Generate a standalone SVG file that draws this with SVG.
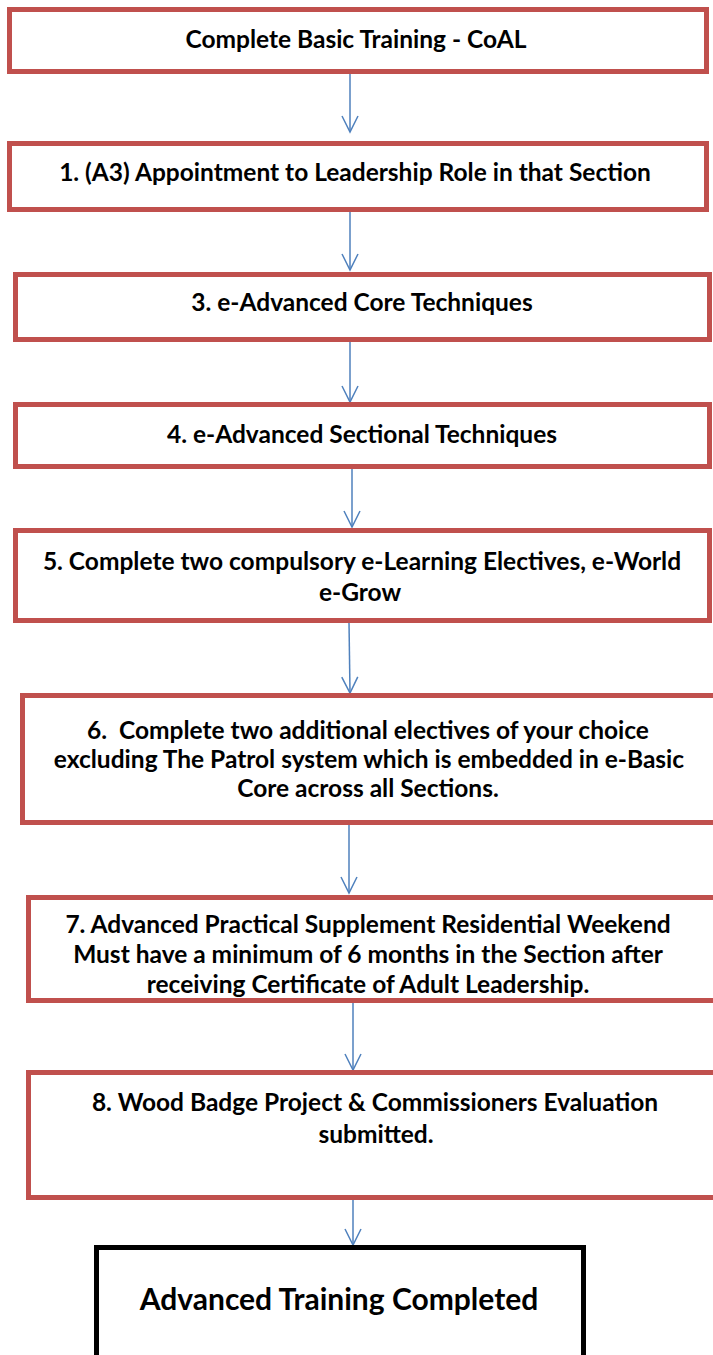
<svg xmlns="http://www.w3.org/2000/svg" width="713" height="1355" viewBox="0 0 713 1355">
<defs>
<style>
.box{fill:#fff;stroke:#C0504D;stroke-width:5}
.end{fill:#fff;stroke:#000;stroke-width:5}
.t{font-family:Lato,"Liberation Sans",sans-serif;font-weight:bold;font-size:24.5px;fill:#000;text-anchor:middle;white-space:pre}
.big{font-size:30px}
.c{fill:none;stroke:#4F81BD;stroke-width:1.5}
</style>
<marker id="ah" viewBox="0 0 20 20" refX="18" refY="10" markerWidth="20" markerHeight="20" markerUnits="userSpaceOnUse" orient="auto">
<path d="M2,2 L18,10 L2,18" fill="none" stroke="#4F81BD" stroke-width="1.5"/>
</marker>
</defs>
<rect width="713" height="1355" fill="#fff"/>
<g id="connectors">
<line class="c" x1="350" y1="72" x2="350" y2="132" marker-end="url(#ah)"/>
<line class="c" x1="350" y1="211" x2="350" y2="270" marker-end="url(#ah)"/>
<line class="c" x1="350" y1="340" x2="350" y2="402" marker-end="url(#ah)"/>
<line class="c" x1="352" y1="467" x2="352" y2="527" marker-end="url(#ah)"/>
<line class="c" x1="349" y1="622" x2="350" y2="693" marker-end="url(#ah)"/>
<line class="c" x1="349" y1="822" x2="349" y2="893" marker-end="url(#ah)"/>
<line class="c" x1="353" y1="1000" x2="353" y2="1070" marker-end="url(#ah)"/>
<line class="c" x1="353" y1="1197" x2="353" y2="1245" marker-end="url(#ah)"/>
</g>
<g id="n0"><rect class="box" x="9.5" y="9.5" width="697" height="62"/><text class="t" x="356" y="48">Complete Basic Training - CoAL</text></g>
<g id="n1"><rect class="box" x="9.5" y="143.5" width="697" height="66"/><text class="t" x="355" y="181">1. (A3) Appointment to Leadership Role in that Section</text></g>
<g id="n3"><rect class="box" x="15.5" y="274.5" width="694" height="65"/><text class="t" x="362" y="311">3. e-Advanced Core Techniques</text></g>
<g id="n4"><rect class="box" x="15.5" y="404.5" width="694" height="62"/><text class="t" x="362" y="443">4. e-Advanced Sectional Techniques</text></g>
<g id="n5"><rect class="box" x="15.5" y="530.5" width="694" height="90"/><text class="t" x="362" y="570">5. Complete two compulsory e-Learning Electives, e-World</text><text class="t" x="360" y="601">e-Grow</text></g>
<g id="n6"><rect class="box" x="22.5" y="695.5" width="700" height="127"/><text class="t" x="368" y="739">6.  Complete two additional electives of your choice</text><text class="t" x="369" y="768">excluding The Patrol system which is embedded in e-Basic</text><text class="t" x="368" y="797">Core across all Sections.</text></g>
<g id="n7"><rect class="box" x="28.5" y="897.5" width="700" height="103"/><text class="t" x="368" y="933">7. Advanced Practical Supplement Residential Weekend</text><text class="t" x="368" y="963">Must have a minimum of 6 months in the Section after</text><text class="t" x="368" y="993">receiving Certificate of Adult Leadership.</text></g>
<g id="n8"><rect class="box" x="28.5" y="1072.5" width="700" height="125"/><text class="t" x="375" y="1111">8. Wood Badge Project &amp; Commissioners Evaluation</text><text class="t" x="376" y="1143">submitted.</text></g>
<g id="n9"><rect class="end" x="96.5" y="1247.5" width="487" height="130"/><text class="t big" x="339" y="1310">Advanced Training Completed</text></g>
</svg>
